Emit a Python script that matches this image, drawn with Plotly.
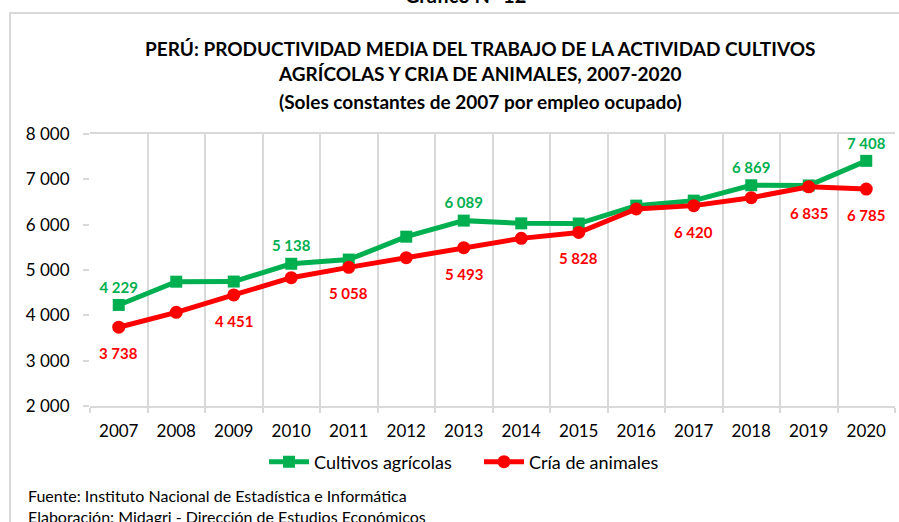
import plotly.graph_objects as go

years = [str(y) for y in range(2007, 2021)]
cultivos = [4229, 4742, 4745, 5138, 5230, 5735, 6089, 6029, 6025, 6420, 6530, 6869, 6865, 7408]
crianza = [3738, 4066, 4451, 4830, 5058, 5272, 5493, 5698, 5828, 6346, 6420, 6595, 6835, 6785]
cultivos_label_years = ["2007", "2010", "2013", "2018", "2020"]
crianza_label_years = ["2007", "2009", "2011", "2013", "2015", "2017", "2019", "2020"]

GREEN = "#00B050"
RED = "#FF0000"
FONT = "Lato"


def fmt(v):
    return f"{v:,}".replace(",", " ")


W, H = 899, 522
L, R, T, B = 90, 4, 134, 116
pw, ph = W - L - R, H - T - B


def px_x(x):
    return (x - L) / pw


def px_y(y):
    return (H - B - y) / ph


fig = go.Figure()
fig.add_trace(go.Scatter(
    x=years, y=cultivos, name="Cultivos agrícolas", mode="lines+markers+text",
    line=dict(color=GREEN, width=5),
    marker=dict(symbol="square", size=12, color=GREEN),
    text=[fmt(v) if y in cultivos_label_years else "" for y, v in zip(years, cultivos)],
    textposition="top center",
    textfont=dict(family=FONT, size=15, color=GREEN, weight="bold"),
    cliponaxis=False,
))
fig.add_trace(go.Scatter(
    x=years, y=crianza, name="Cría de animales", mode="lines+markers",
    line=dict(color=RED, width=5),
    marker=dict(symbol="circle", size=13, color=RED),
    cliponaxis=False,
))

annotations = []
for i, (y, v) in enumerate(zip(years, crianza)):
    if y in crianza_label_years:
        annotations.append(dict(
            text=fmt(v), x=i, y=v, xref="x", yref="y", showarrow=False,
            yshift=-26, xanchor="center", yanchor="middle",
            font=dict(family=FONT, size=15, color=RED, weight="bold"),
        ))

title_lines = [
    ("PERÚ: PRODUCTIVIDAD MEDIA DEL TRABAJO DE LA ACTIVIDAD CULTIVOS", 48),
    ("AGRÍCOLAS Y CRIA DE ANIMALES, 2007-2020", 74),
    ("(Soles constantes de 2007 por empleo ocupado)", 101),
]
for txt, yc in title_lines:
    annotations.append(dict(
        text=txt, xref="paper", yref="paper", x=px_x(480), y=px_y(yc),
        xanchor="center", yanchor="middle", showarrow=False,
        font=dict(family=FONT, size=19, color="#000000", weight="bold"),
    ))
annotations.append(dict(
    text="Gráfico N° 12", xref="paper", yref="paper", x=px_x(465), y=px_y(9),
    xanchor="center", yanchor="bottom", showarrow=False,
    font=dict(family=FONT, size=20, color="#000000", weight="bold"),
))
for txt, yc in [("Fuente: Instituto Nacional de Estadística e Informática", 495),
                ("Elaboración: Midagri - Dirección de Estudios Económicos", 516)]:
    annotations.append(dict(
        text=txt, xref="paper", yref="paper", x=px_x(26), y=px_y(yc),
        xanchor="left", yanchor="middle", showarrow=False,
        font=dict(family=FONT, size=16, color="#000000"),
    ))

fig.update_layout(
    width=W, height=H,
    margin=dict(l=L, r=R, t=T, b=B, pad=0, autoexpand=False),
    paper_bgcolor="white", plot_bgcolor="white",
    font=dict(family=FONT, size=17, color="#000000"),
    showlegend=True,
    legend=dict(orientation="h", x=px_x(479), y=px_y(462), xanchor="center", yanchor="middle",
                font=dict(family=FONT, size=18, color="#000000"), itemwidth=40,
                entrywidth=160, entrywidthmode="pixels",
                bgcolor="rgba(0,0,0,0)"),
    annotations=annotations,
    shapes=[dict(type="rect", xref="paper", yref="paper",
                 x0=px_x(10), x1=px_x(905), y0=px_y(13), y1=px_y(530),
                 line=dict(color="#d9d9d9", width=2), layer="below")],
)
fig.update_xaxes(
    type="category", tickson="boundaries", showgrid=True, gridcolor="#d9d9d9", gridwidth=2,
    ticks="outside", ticklen=5, tickcolor="#d9d9d9", tickwidth=2,
    showline=True, linecolor="#d9d9d9", linewidth=2, mirror=True,
    tickfont=dict(family=FONT, size=17), ticklabelstandoff=9,
    range=[-0.5, 13.5], zeroline=False,
)
fig.update_yaxes(
    range=[2000, 8000], showgrid=False,
    ticks="outside", ticklen=6, tickcolor="#d9d9d9", tickwidth=2,
    showline=False, zeroline=False,
    tickvals=list(range(2000, 8001, 1000)),
    ticktext=[fmt(v) for v in range(2000, 8001, 1000)],
    tickfont=dict(family=FONT, size=17), ticklabelstandoff=10,
)

fig.write_html(
    "out.html",
    config={"displayModeBar": False},
    post_script="document.body.style.margin='0';document.body.style.overflow='hidden';",
)
